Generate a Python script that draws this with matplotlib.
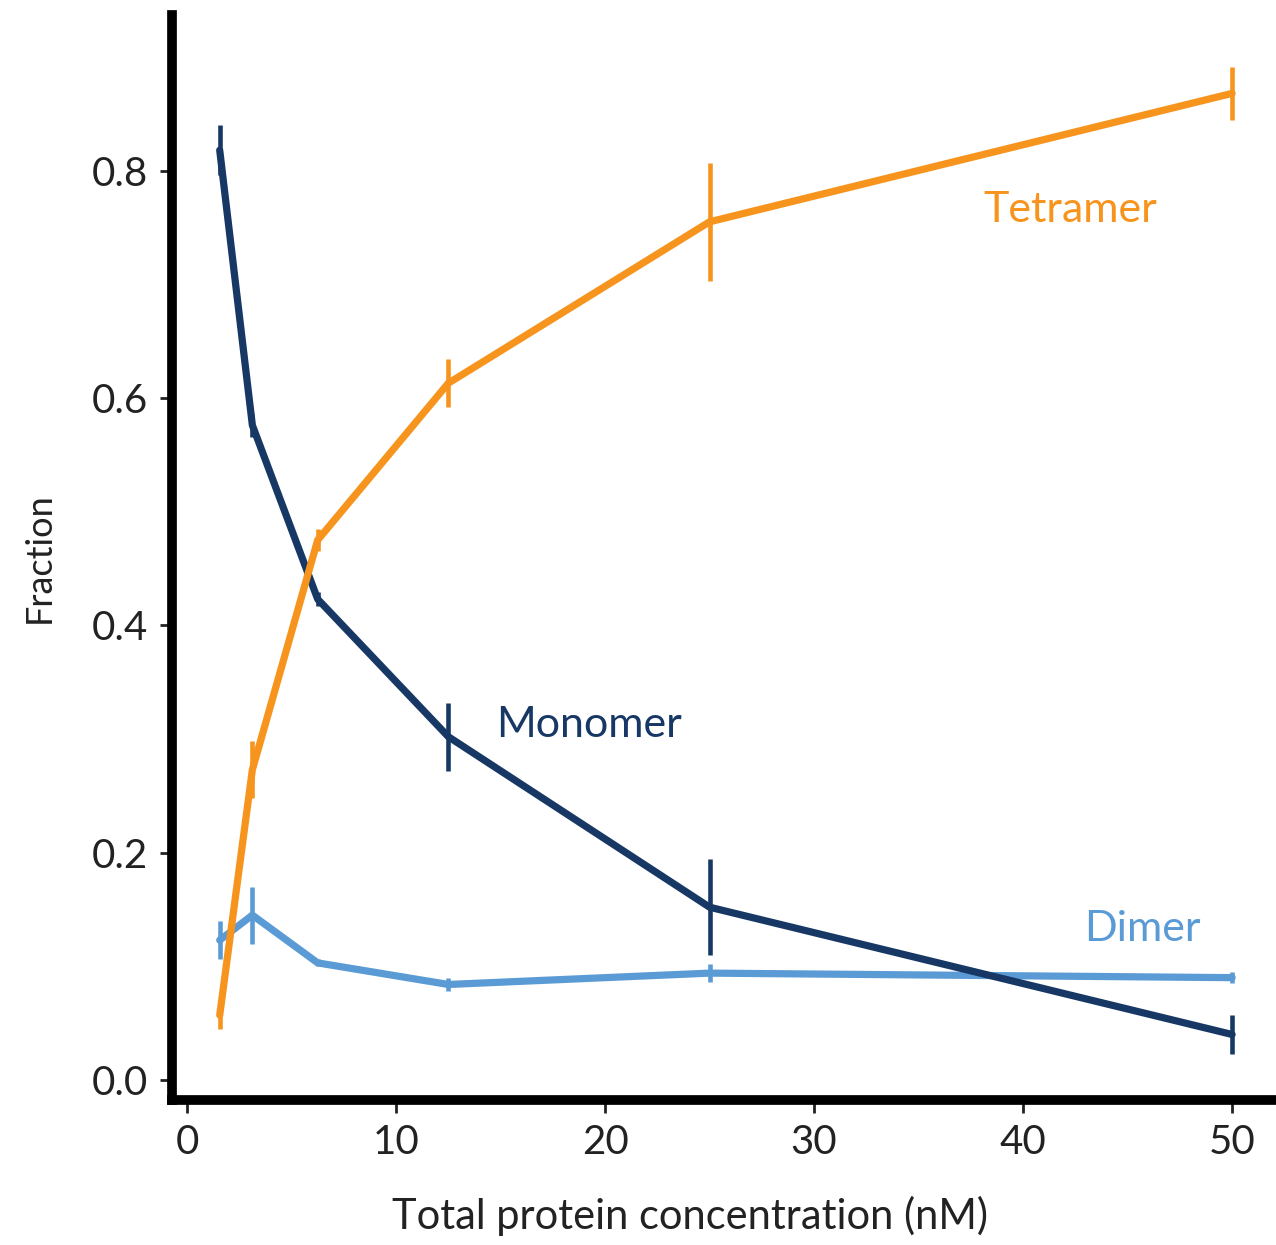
import matplotlib
matplotlib.use("Agg")
import matplotlib.pyplot as plt

plt.rcParams['font.family'] = ['Lato', 'DejaVu Sans']

# concentrations (nM), doubling series
conc = [1.5625, 3.125, 6.25, 12.5, 25, 50]

monomer = [0.818, 0.576, 0.423, 0.302, 0.152, 0.040]
monomer_err = [0.022, 0.010, 0.006, 0.030, 0.042, 0.017]

tetramer = [0.057, 0.273, 0.475, 0.613, 0.755, 0.868]
tetramer_err = [0.012, 0.025, 0.010, 0.021, 0.052, 0.023]

dimer = [0.123, 0.145, 0.103, 0.084, 0.094, 0.090]
dimer_err = [0.017, 0.025, 0.003, 0.006, 0.008, 0.005]

colors = {'monomer': '#173865', 'tetramer': '#F7941D', 'dimer': '#5B9BD5'}

fig = plt.figure(figsize=(12.76, 12.45), dpi=100)
ax = fig.add_axes([0.1348, 0.1165, 0.8652, 0.8715])

for y, err, key in [(dimer, dimer_err, 'dimer'),
                    (monomer, monomer_err, 'monomer'),
                    (tetramer, tetramer_err, 'tetramer')]:
    ax.errorbar(conc, y, yerr=err, color=colors[key], lw=5.2, elinewidth=3.3,
                capsize=0, solid_capstyle='round', solid_joinstyle='round')

# series labels
ax.text(38.1, 0.765, 'Tetramer', color=colors['tetramer'], fontsize=31, ha='left', va='center')
ax.text(14.8, 0.312, 'Monomer', color=colors['monomer'], fontsize=31, ha='left', va='center')
ax.text(42.9, 0.133, 'Dimer', color=colors['dimer'], fontsize=31, ha='left', va='center')

ax.set_xlim(-0.72, 52.1)
ax.set_ylim(-0.0176, 0.937)
ax.set_xticks([0, 10, 20, 30, 40, 50])
ax.set_yticks([0.0, 0.2, 0.4, 0.6, 0.8])
ax.set_yticklabels(['0.0', '0.2', '0.4', '0.6', '0.8'])

for s in ['top', 'right']:
    ax.spines[s].set_visible(False)
for s in ['left', 'bottom']:
    ax.spines[s].set_linewidth(7)
    ax.spines[s].set_color('black')
    ax.spines[s].set_capstyle('projecting')

ax.tick_params(axis='both', direction='out', length=9, width=2, labelsize=29,
               color='#222222', labelcolor='#222222', pad=8)

ax.set_xlabel('Total protein concentration (nM)', fontsize=30, color='#222222')
ax.xaxis.set_label_coords(0.469, -0.088)
ax.set_ylabel('Fraction', fontsize=26, color='#222222', labelpad=26)

fig.savefig('out.png', dpi=100)
